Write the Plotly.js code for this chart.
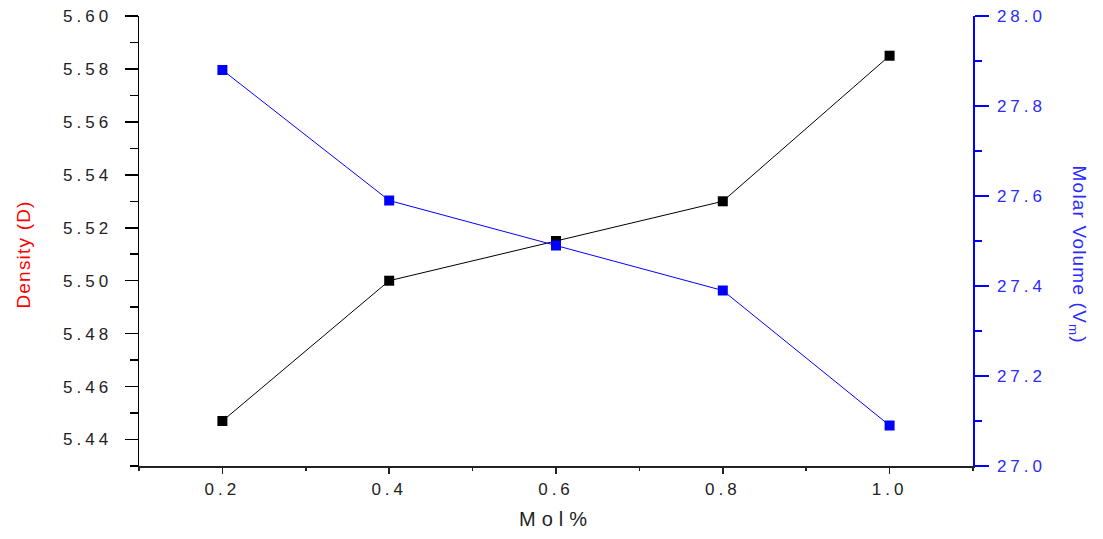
<!DOCTYPE html>
<html>
<head>
<meta charset="utf-8">
<script src="https://cdn.plot.ly/plotly-3.0.1.min.js"></script>
<style>
  html, body { margin: 0; padding: 0; background: #fff; }
  #chart { width: 1103px; height: 539px; }
  .xtick text, .ytick text, .y2tick text { letter-spacing: 4px; }
  .g-xtitle text { letter-spacing: 6px; }
  .annotation-text { letter-spacing: 1.2px; }
</style>
</head>
<body>
<div id="chart"></div>
<script>
// Data
const molPercent = [0.2, 0.4, 0.6, 0.8, 1.0];
const density = [5.447, 5.500, 5.515, 5.530, 5.585];
const molarVolume = [27.88, 27.59, 27.49, 27.39, 27.09];

const xTitle = 'Mol%';
const yTitle = 'Density (D)';
const y2Title = 'Molar Volume (V<sub>m</sub>)';

const traces = [
  {
    x: molPercent, y: density, type: 'scatter', mode: 'lines+markers',
    name: 'Density',
    line: { color: '#000000', width: 1 },
    marker: { symbol: 'square', size: 10, color: '#000000' },
    xaxis: 'x', yaxis: 'y', showlegend: false
  },
  {
    x: molPercent, y: molarVolume, type: 'scatter', mode: 'lines+markers',
    name: 'Molar Volume',
    line: { color: '#0000ff', width: 1 },
    marker: { symbol: 'square', size: 10, color: '#0000ff' },
    xaxis: 'x', yaxis: 'y2', showlegend: false
  }
];

const tickFont = { family: 'Liberation Sans, Arial, sans-serif', size: 17, color: '#222222' };

const layout = {
  width: 1103, height: 539,
  margin: { l: 139, r: 130, t: 16, b: 73, pad: 0 },
  paper_bgcolor: '#ffffff', plot_bgcolor: '#ffffff',
  showlegend: false,
  xaxis: {
    range: [0.1, 1.1], tick0: 0.2, dtick: 0.2, tickformat: '.1f',
    showgrid: false, zeroline: false,
    showline: true, linecolor: '#222222', linewidth: 1.5,
    ticks: 'outside', ticklen: 6, tickwidth: 1.5, tickcolor: '#222222',
    minor: { dtick: 0.1, ticks: 'outside', ticklen: 3, tickwidth: 1.5, tickcolor: '#222222' },
    tickfont: tickFont, ticklabelstandoff: 1,
    title: { text: xTitle, font: { family: 'Liberation Sans, Arial, sans-serif', size: 20, color: '#222222' }, standoff: 14 }
  },
  xaxis2: {
    overlaying: 'x', side: 'top', anchor: 'y',
    range: [0.1, 1.1], tick0: 0.2, dtick: 0.2,
    showgrid: false, zeroline: false, showticklabels: false,
    showline: true, linecolor: '#222222', linewidth: 1.5,
    ticks: 'inside', ticklen: 7, tickwidth: 1.5, tickcolor: '#222222',
    minor: { dtick: 0.1, ticks: 'inside', ticklen: 3, tickwidth: 1.5, tickcolor: '#222222' }
  },
  yaxis: {
    range: [5.43, 5.60], tick0: 5.44, dtick: 0.02, tickformat: '.2f',
    showgrid: false, zeroline: false,
    showline: true, linecolor: '#000000', linewidth: 1.5,
    ticks: 'outside', ticklen: 13, tickwidth: 1.5, tickcolor: '#000000',
    minor: { dtick: 0.01, ticks: 'outside', ticklen: 8, tickwidth: 1.5, tickcolor: '#000000' },
    tickfont: tickFont, ticklabelstandoff: 9
  },
  yaxis2: {
    overlaying: 'y', side: 'right', anchor: 'x',
    range: [27.0, 28.0], tick0: 27.0, dtick: 0.2, tickformat: '.1f',
    showgrid: false, zeroline: false,
    showline: true, linecolor: '#0000ff', linewidth: 1.5,
    ticks: 'outside', ticklen: 14, tickwidth: 1.5, tickcolor: '#0000ff',
    minor: { dtick: 0.1, ticks: 'outside', ticklen: 7, tickwidth: 1.5, tickcolor: '#0000ff' },
    tickfont: { family: 'Liberation Sans, Arial, sans-serif', size: 17, color: '#2a2aff' },
    ticklabelstandoff: 5
  },
  annotations: [
    {
      text: yTitle, xref: 'paper', yref: 'paper', x: -0.139, y: 0.47,
      xanchor: 'center', yanchor: 'middle', textangle: -90, showarrow: false,
      font: { family: 'Liberation Sans, Arial, sans-serif', size: 19, color: '#ff0000' }
    },
    {
      text: y2Title, xref: 'paper', yref: 'paper', x: 1.127, y: 0.47,
      xanchor: 'center', yanchor: 'middle', textangle: 90, showarrow: false,
      font: { family: 'Liberation Sans, Arial, sans-serif', size: 19, color: '#2a2aff' }
    }
  ]
};

Plotly.newPlot('chart', traces, layout, { displayModeBar: false, staticPlot: true });
</script>
</body>
</html>
